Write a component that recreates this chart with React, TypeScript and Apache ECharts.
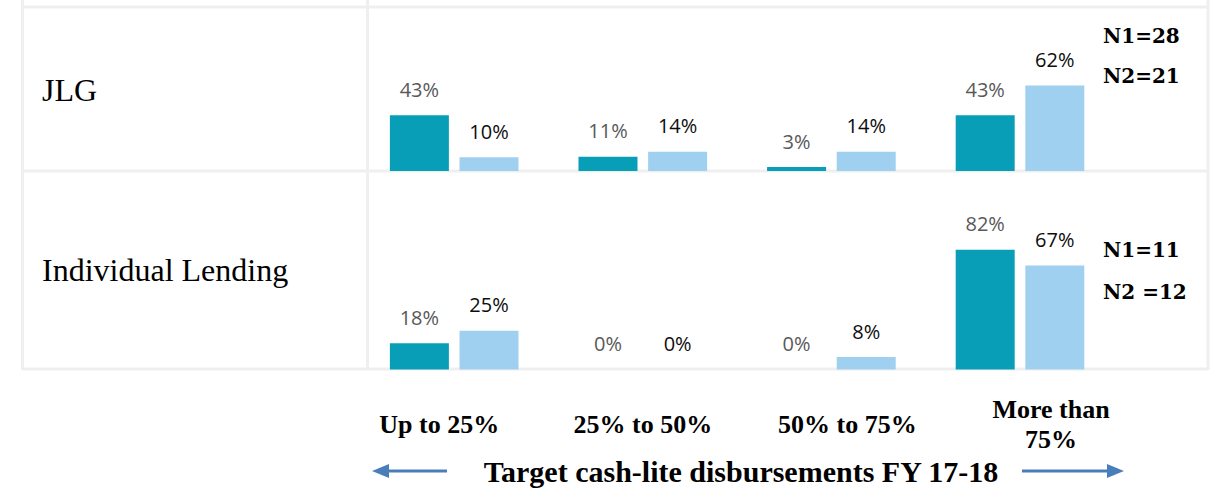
import React, { useEffect, useRef } from "react";
import * as echarts from "echarts";

const categories = ["Up to 25%", "25% to 50%", "50% to 75%", "More than\n75%"];
const rowNames = ["JLG", "Individual Lending"];
const jlgN1 = [43, 11, 3, 43];
const jlgN2 = [10, 14, 14, 62];
const ilN1 = [18, 0, 0, 82];
const ilN2 = [25, 0, 8, 67];
const nLabels = [
  ["N1=28", "N2=21"],
  ["N1=11", "N2 =12"],
];
const axisTitle = "Target cash-lite disbursements FY 17-18";

const DARK = "#089EB7";
const LIGHT = "#A0D0F0";
const BORDER = "#EFEFEF";
const ARROW = "#4A7EBB";

export default function App() {
  const ref = useRef<HTMLDivElement>(null);

  useEffect(() => {
    if (!ref.current) return;
    const chart = echarts.init(ref.current, null, { renderer: "svg" });

    const labelFont = { fontFamily: "Open Sans", fontSize: 20 };
    const catFont = {
      fontFamily: "Liberation Serif",
      fontWeight: "bold" as const,
      fontSize: 26,
      color: "#000",
      lineHeight: 30,
    };
    const shifts = [
      [0, 30, 0, 0],
      [0, 0, 0, 0],
      [0, 0, 0, 32],
      [0, 0, 0, 62],
    ];
    const rich: any = {};
    shifts.forEach((p, i) => {
      rich["c" + i] = { ...catFont, padding: p };
    });

    const mkSeries = (data: number[], xi: number, yi: number, dark: boolean) => ({
      type: "bar",
      data,
      xAxisIndex: xi,
      yAxisIndex: yi,
      barWidth: 59,
      barGap: "18%",
      itemStyle: { color: dark ? DARK : LIGHT },
      z: 3,
      label: {
        show: true,
        position: "top",
        distance: 16,
        formatter: "{c}%",
        color: dark ? "#595959" : "#0D0D0D",
        ...labelFont,
      },
    });

    const borderLine = (x1: number, y1: number, x2: number, y2: number) => ({
      type: "line",
      shape: { x1, y1, x2, y2 },
      style: { stroke: BORDER, lineWidth: 3 },
      z: 0,
    });

    const graphic: any[] = [
      borderLine(22.5, 0, 22.5, 370),
      borderLine(367.5, 0, 367.5, 370),
      borderLine(1208, 0, 1208, 370),
      borderLine(22.5, 7, 1208, 7),
      borderLine(22.5, 171, 1208, 171),
      borderLine(22.5, 369, 1208, 369),
      {
        type: "text",
        x: 42,
        y: 89.5,
        style: {
          text: rowNames[0],
          font: "32px 'Liberation Serif'",
          fill: "#000",
          verticalAlign: "middle",
        },
      },
      {
        type: "text",
        x: 42,
        y: 270,
        style: {
          text: rowNames[1],
          font: "32px 'Liberation Serif'",
          fill: "#000",
          verticalAlign: "middle",
        },
      },
      ...[
        [36, 76],
        [250, 292],
      ].flatMap((ys, r) =>
        ys.map((y, k) => ({
          type: "text",
          x: 1103,
          y,
          style: {
            text: nLabels[r][k],
            font: "bold 20px 'DejaVu Serif'",
            fill: "#000",
            verticalAlign: "middle",
          },
        }))
      ),
      {
        type: "text",
        x: 741,
        y: 471,
        style: {
          text: axisTitle,
          font: "bold 30px 'Liberation Serif'",
          fill: "#000",
          align: "center",
          verticalAlign: "middle",
        },
      },
      {
        type: "line",
        shape: { x1: 386, y1: 471, x2: 447, y2: 471 },
        style: { stroke: ARROW, lineWidth: 3 },
      },
      {
        type: "polygon",
        shape: { points: [[372, 471], [389, 464], [389, 478]] },
        style: { fill: ARROW },
      },
      {
        type: "line",
        shape: { x1: 1022, y1: 471, x2: 1110, y2: 471 },
        style: { stroke: ARROW, lineWidth: 3 },
      },
      {
        type: "polygon",
        shape: { points: [[1124, 471], [1107, 464], [1107, 478]] },
        style: { fill: ARROW },
      },
    ];

    const hiddenValueAxis = (gridIndex: number, max: number) => ({
      type: "value",
      gridIndex,
      min: 0,
      max,
      show: false,
      splitLine: { show: false },
    });

    chart.setOption({
      animation: false,
      grid: [
        { left: 359.9, width: 754.4, top: 10, height: 161 },
        { left: 359.9, width: 754.4, top: 176, height: 193.5 },
      ],
      xAxis: [
        {
          type: "category",
          gridIndex: 0,
          data: categories,
          axisLine: { show: false },
          axisTick: { show: false },
          axisLabel: { show: false },
        },
        {
          type: "category",
          gridIndex: 1,
          data: categories,
          axisLine: { show: false },
          axisTick: { show: false },
          axisLabel: {
            show: true,
            interval: 0,
            margin: 55,
            verticalAlign: "middle",
            ...catFont,
            formatter: (v: string, i: number) => `{c${i}|${v}}`,
            rich,
          },
        },
      ],
      yAxis: [
        hiddenValueAxis(0, 124.3),
        hiddenValueAxis(0, 116.7),
        hiddenValueAxis(1, 132.5),
        hiddenValueAxis(1, 124.8),
      ],
      series: [
        mkSeries(jlgN1, 0, 0, true),
        mkSeries(jlgN2, 0, 1, false),
        mkSeries(ilN1, 1, 2, true),
        mkSeries(ilN2, 1, 3, false),
      ],
      graphic,
    });

    return () => chart.dispose();
  }, []);

  return (
    <div
      ref={ref}
      style={{ position: "absolute", left: 0, top: 0, width: 1211, height: 489 }}
    />
  );
}
